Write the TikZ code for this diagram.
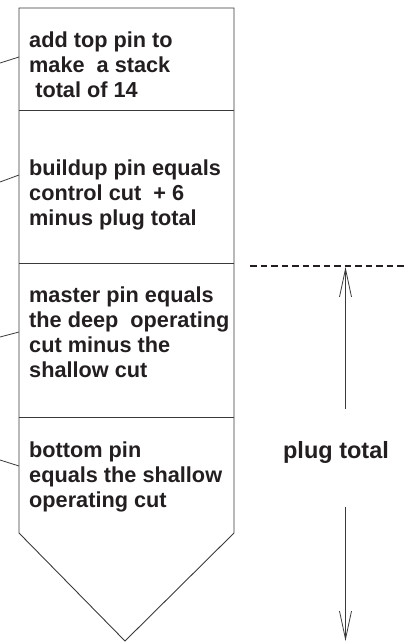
\documentclass[tikz,border=0pt]{standalone}
\usepackage{fontspec}
\setmainfont{Liberation Sans}
\usetikzlibrary{arrows.meta}
\definecolor{ink}{HTML}{231F20}
\definecolor{edge}{HTML}{3A3A3A}
\begin{document}
\begin{tikzpicture}[x=1pt,y=-1pt,
  boxline/.style={draw=edge,line width=0.9pt},
  leader/.style={draw=edge,line width=0.8pt},
  boxtext/.style={anchor=base west,inner sep=0pt,align=left,text=ink,
    font=\fontsize{21.7}{25.3}\selectfont\bfseries},
  bigtext/.style={anchor=base,inner sep=0pt,text=ink,
    font=\fontsize{23.5}{26}\selectfont\bfseries},
  dimarrow/.style={draw=edge,line width=0.8pt,-{Straight Barb[length=28pt,width=12pt]}},
  dashline/.style={draw=ink,line width=2pt,dash pattern=on 6.5pt off 4pt}]
\useasboundingbox (0,0) rectangle (405,643);
% box corners
\coordinate (tl) at (19,8);   \coordinate (tr) at (234,8);
\coordinate (s1l) at (19,110); \coordinate (s1r) at (234,110);
\coordinate (s2l) at (19,263); \coordinate (s2r) at (234,263);
\coordinate (s3l) at (19,417); \coordinate (s3r) at (234,417);
\coordinate (bl) at (19,533); \coordinate (br) at (234,533);
\coordinate (tip) at (125,641);
\draw[boxline,line join=miter] (bl) -- (tl) -- (tr) -- (br) -- (tip) -- cycle;
\draw[boxline] (s1l) -- (s1r);
\draw[boxline] (s2l) -- (s2r);
\draw[boxline] (s3l) -- (s3r);
% texts (anchored at the baseline of their last line)
\node[boxtext] (t1) at (29,97.6) {add top pin to\\make\ \ a stack\\\hspace*{0.28em}total of 14};
\node[boxtext] (t2) at (29,225.6) {buildup pin equals\\control cut\ \ + 6\\minus plug total};
\node[boxtext] (t3) at (29,377.9) {master pin equals\\the deep\ \ operating\\cut minus the\\shallow cut};
\node[boxtext] (t4) at (29,507.6) {bottom pin\\equals the shallow\\operating cut};
% leader lines
\coordinate (p1) at (0,63);  \coordinate (q1) at (19,57);
\coordinate (p2) at (0,182); \coordinate (q2) at (19,175);
\coordinate (p3) at (0,337); \coordinate (q3) at (19,332);
\coordinate (p4) at (0,460); \coordinate (q4) at (19,466);
\draw[leader] (p1) -- (q1);
\draw[leader] (p2) -- (q2);
\draw[leader] (p3) -- (q3);
\draw[leader] (p4) -- (q4);
% dimension
\coordinate (dl) at (250,266); \coordinate (dr) at (405,266);
\draw[dashline] (dl) -- (dr);
\node[bigtext] (plug) at (336,458) {plug total};
\coordinate (upstart) at (345.5,409); \coordinate (uptip) at (345.5,267);
\coordinate (dnstart) at (345.5,507); \coordinate (dntip) at (345.5,641);
\draw[dimarrow] (upstart) -- (uptip);
\draw[dimarrow] (dnstart) -- (dntip);
\end{tikzpicture}
\end{document}
